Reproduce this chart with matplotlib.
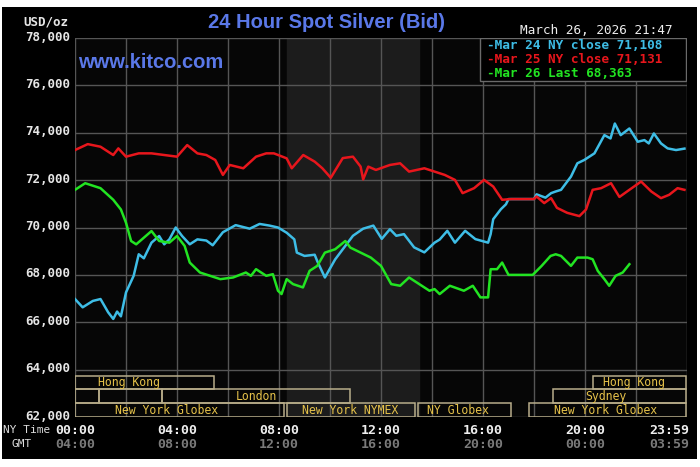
import matplotlib
matplotlib.use('Agg')
import matplotlib.pyplot as plt
from matplotlib.patches import Rectangle
from matplotlib.transforms import blended_transform_factory

# hours since 00:00 NY time, price in USD/oz
blue_h = [0.0, 0.3, 0.7, 1.0, 1.3, 1.5, 1.65, 1.8, 2.0, 2.3, 2.5, 2.7, 3.0, 3.3, 3.5, 3.7, 3.95,
          4.2, 4.5, 4.8, 5.15, 5.4, 5.8, 6.3, 6.85, 7.24, 7.63, 7.96, 8.3, 8.6, 8.7, 9.0, 9.4,
          9.5, 9.8, 10.2, 10.5, 10.9, 11.3, 11.7, 12.03, 12.35, 12.6, 12.9, 13.3, 13.7, 14.1,
          14.3, 14.6, 14.9, 15.3, 15.7, 16.2, 16.3, 16.4, 16.7, 16.9, 17.0, 18.0, 18.1, 18.45,
          18.67, 18.85, 19.06, 19.45, 19.7, 19.97, 20.37, 20.76, 21.0, 21.17, 21.4, 21.74, 22.07,
          22.33, 22.5, 22.7, 22.98, 23.24, 23.57, 23.9]
blue_v = [66980, 66630, 66900, 66980, 66420, 66140, 66450, 66250, 67260, 67960, 68870, 68700,
          69360, 69640, 69290, 69500, 70000, 69640, 69290, 69500, 69450, 69250, 69800, 70100,
          69950, 70150, 70080, 70000, 69780, 69500, 68940, 68800, 68850, 68580, 67890, 68650,
          69080, 69650, 69950, 70080, 69520, 69930, 69650, 69720, 69160, 68950, 69360, 69490,
          69860, 69360, 69860, 69510, 69360, 69720, 70350, 70770, 70980, 71200, 71200, 71400,
          71260, 71450, 71520, 71590, 72150, 72710, 72850, 73130, 73900, 73760, 74390, 73900,
          74180, 73620, 73690, 73550, 73970, 73550, 73340, 73270, 73330]

red_h = [0.0, 0.5, 1.0, 1.5, 1.7, 2.0, 2.5, 3.0, 3.5, 4.0, 4.4, 4.8, 5.15, 5.5, 5.8, 6.07, 6.6,
         7.1, 7.5, 7.8, 8.3, 8.5, 8.95, 9.4, 9.7, 10.03, 10.5, 10.9, 11.2, 11.3, 11.5, 11.8,
         12.35, 12.75, 13.1, 13.7, 14.1, 14.5, 14.9, 15.2, 15.65, 16.04, 16.4, 16.75, 17.1,
         18.0, 18.1, 18.4, 18.67, 18.9, 19.3, 19.78, 20.04, 20.3, 20.63, 21.02, 21.35, 21.74,
         22.2, 22.6, 22.98, 23.3, 23.63, 23.9]
red_v = [73270, 73520, 73410, 73060, 73340, 72990, 73130, 73130, 73060, 72990, 73480, 73130,
         73060, 72850, 72220, 72640, 72500, 72990, 73130, 73130, 72920, 72500, 73060, 72780,
         72500, 72100, 72930, 72990, 72570, 72030, 72570, 72430, 72640, 72710, 72360, 72500,
         72360, 72220, 72010, 71450, 71660, 72010, 71730, 71170, 71200, 71200, 71310, 71030,
         71240, 70830, 70620, 70480, 70760, 71590, 71660, 71870, 71290, 71590, 71940, 71520,
         71240, 71380, 71660, 71590]

green_h = [0.0, 0.4, 1.0, 1.5, 1.8, 2.0, 2.2, 2.4, 3.0, 3.3, 3.7, 4.0, 4.3, 4.5, 4.9, 5.3, 5.7,
           6.2, 6.7, 6.9, 7.1, 7.5, 7.76, 7.96, 8.1, 8.3, 8.55, 8.94, 9.2, 9.5, 9.8, 10.2, 10.6,
           10.8, 11.2, 11.6, 12.0, 12.4, 12.75, 13.1, 13.5, 13.9, 14.1, 14.3, 14.7, 15.25, 15.6,
           15.9, 16.2, 16.3, 16.55, 16.75, 17.0, 17.95, 18.3, 18.65, 18.85, 19.06, 19.45, 19.7,
           20.1, 20.3, 20.5, 20.76, 20.95, 21.2, 21.48, 21.74]
green_v = [71590, 71870, 71660, 71170, 70760, 70200, 69430, 69290, 69850, 69430, 69360, 69640,
           69220, 68520, 68100, 67960, 67820, 67890, 68100, 67960, 68240, 67960, 68030, 67330,
           67190, 67820, 67610, 67470, 68170, 68380, 68940, 69080, 69430, 69150, 68940, 68730,
           68380, 67610, 67540, 67890, 67610, 67330, 67400, 67190, 67540, 67330, 67540, 67050,
           67050, 68240, 68240, 68520, 68000, 68000, 68380, 68800, 68870, 68800, 68380, 68730,
           68730, 68660, 68170, 67820, 67540, 67960, 68100, 68450]

legend_labels = ["-Mar 24 NY close 71,108", "-Mar 25 NY close 71,131", "-Mar 26 Last 68,363"]

y_ticks = [62000, 64000, 66000, 68000, 70000, 72000, 74000, 76000, 78000]
ny_ticks = [0, 4, 8, 12, 16, 20]
ny_labels = ["00:00", "04:00", "08:00", "12:00", "16:00", "20:00"]
gmt_labels = ["04:00", "08:00", "12:00", "16:00", "20:00", "00:00"]

# market sessions: (row, start, end, label, label position)
sessions = [
    (2, 0.0, 5.45, "Hong Kong", 2.1),
    (2, 20.3, 23.95, "Hong Kong", 21.9),
    (1, 0.0, 0.96, "", 0),
    (1, 0.96, 3.42, "", 0),
    (1, 3.42, 10.8, "London", 7.1),
    (1, 18.76, 23.95, "Sydney", 20.8),
    (0, 0.0, 8.2, "New York Globex", 3.6),
    (0, 8.3, 13.35, "New York NYMEX", 10.8),
    (0, 13.45, 17.1, "NY Globex", 15.0),
    (0, 17.8, 23.95, "New York Globex", 20.8),
]
nymex = (8.33, 13.5)

BLUE = '#3ebde6'; RED = '#e8161c'; GREEN = '#22e422'
MONO = 'DejaVu Sans Mono'

fig = plt.figure(figsize=(7, 4.67), dpi=100, facecolor='white')
fig.patches.append(Rectangle((2/700, 1-459/467), 695/700, 452/467, transform=fig.transFigure,
                             facecolor='black', edgecolor='none', zorder=-5))
ax = fig.add_axes([75/700, 1-417/467, 612/700, 379/467])
ax.set_facecolor('#060606')
ax.set_xlim(0, 24)
ax.set_ylim(62000, 78000)
ax.axvspan(*nymex, color='#1c1c1c', zorder=0)
for h in range(0, 25, 2):
    ax.axvline(h, color='#555555', lw=1, zorder=1)
for v in y_ticks:
    ax.axhline(v, color='#555555', lw=1, zorder=1)
for s in ax.spines.values():
    s.set_visible(False)
ax.set_xticks([]); ax.set_yticks([])

ax.plot(blue_h, blue_v, color=BLUE, lw=1.8, zorder=3)
ax.plot(red_h, red_v, color=RED, lw=1.8, zorder=3)
ax.plot(green_h, green_v, color=GREEN, lw=1.8, zorder=4)

# session bars
row_edges = [62000, 62590, 63170, 63750]
for row, x0, x1, lab, lx in sessions:
    y0, y1 = row_edges[row], row_edges[row+1]
    ax.add_patch(Rectangle((x0, y0), x1-x0, y1-y0, facecolor='none', edgecolor='#b8ad8a', lw=1.1, zorder=5))
    if lab:
        ax.text(lx, (y0+y1)/2, lab, color='#e6c24a', fontsize=8.3, family=MONO, ha='center', va='center', zorder=6)

# legend box
lg = Rectangle((15.9, 76200), 8.05, 1800, facecolor='black', edgecolor='#6a6a6a', lw=1, zorder=6)
ax.add_patch(lg)
for i, (lab, c) in enumerate(zip(legend_labels, [BLUE, RED, GREEN])):
    ax.text(16.15, 77700 - i*600, lab, color=c, fontsize=9.2, family=MONO, fontweight='bold',
            ha='left', va='center', zorder=7)

# y labels
for v in y_ticks:
    ax.text(-0.2, v + 40, f"{v:,}", color='#e6e6e6', fontsize=9, family=MONO, fontweight='bold',
            ha='right', va='center', clip_on=False)

# time labels
tr = blended_transform_factory(ax.transData, fig.transFigure)
for h, a, b in zip(ny_ticks, ny_labels, gmt_labels):
    ax.text(h, 1-430/467, a, color='#eeeeee', fontsize=9.5, family=MONO, fontweight='bold',
            ha='center', va='center', transform=tr)
    ax.text(h, 1-444/467, b, color='#7a7a7a', fontsize=9.5, family=MONO, fontweight='bold',
            ha='center', va='center', transform=tr)
ax.text(24.1, 1-430/467, "23:59", color='#eeeeee', fontsize=9.5, family=MONO, fontweight='bold',
        ha='right', va='center', transform=tr)
ax.text(24.1, 1-444/467, "03:59", color='#7a7a7a', fontsize=9.5, family=MONO, fontweight='bold',
        ha='right', va='center', transform=tr)
fig.text(3/700, 1-430/467, "NY Time", color='#dddddd', fontsize=8, family=MONO, ha='left', va='center')
fig.text(12/700, 1-444/467, "GMT", color='#dddddd', fontsize=8, family=MONO, ha='left', va='center')

# header texts
fig.text(23/700, 1-22/467, "USD/oz", color='#e6e6e6', fontsize=9, family=MONO, fontweight='bold',
         ha='left', va='center')
fig.text(326/700, 1-22/467, "24 Hour Spot Silver (Bid)", color='#5a78e8', fontsize=14.5,
         family='Liberation Sans', fontweight='bold', ha='center', va='center')
fig.text(78/700, 1-62/467, "www.kitco.com", color='#5a78e8', fontsize=14.5, family='Liberation Sans',
         fontweight='bold', ha='left', va='center')
fig.text(673/700, 1-31/467, "March 26, 2026 21:47", color='#eeeeee', fontsize=9.2, family=MONO,
         ha='right', va='center')

fig.savefig('out.png', dpi=100, facecolor='white')
